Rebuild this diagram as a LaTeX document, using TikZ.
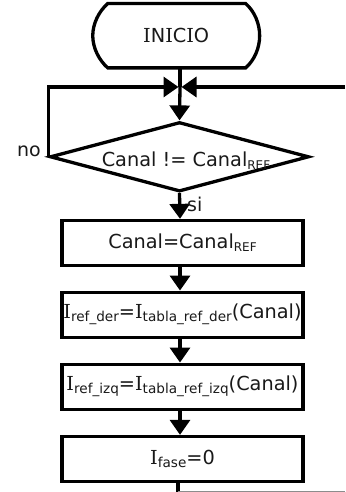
\documentclass[tikz,border=0pt]{standalone}
\usepackage{fontspec}
\setmainfont{DejaVu Sans}
\newfontfamily\vserif{DejaVu Serif}
\usetikzlibrary{arrows.meta,shapes.geometric,calc}
\newcommand\VI{{\vserif I}}
\newcommand\sbs[2][13.6]{\raisebox{-3pt}{\fontsize{#1}{#1}\selectfont #2}}
\begin{document}
\begin{tikzpicture}[x=1pt,y=-1pt,
  every node/.style={font=\fontsize{19.3}{23}\selectfont,text=black!90,inner sep=0pt},
  flow/.style={line width=3.3pt,-{Triangle[length=15pt,width=20pt]}},
  plain/.style={line width=3.3pt},
  procbox/.style={draw,line width=3.3pt,minimum width=241pt,minimum height=45pt},
  decision/.style={draw,line width=3.3pt,shape=diamond,minimum width=259pt,minimum height=69.5pt,aspect=3.73},
  lbl/.style={font=\fontsize{19}{23}\selectfont}
]
\useasboundingbox (0,0) rectangle (345,492);
\coordinate (spine) at (180,0);
% start terminal
\node[minimum width=166.5pt,minimum height=64pt] (start) at (176.2,35.7) {\VI N\VI C\VI O};
\draw[line width=3.3pt]
  ($(start.north west)+(15,0)$) -- ($(start.north east)+(-14,0)$)
  .. controls ($(start.north east)+(-5,8)$) and ($(start.east)+(0,-12)$) .. (start.east)
  .. controls ($(start.east)+(0,12)$) and ($(start.south east)+(-5,-8)$) .. ($(start.south east)+(-14,0)$)
  -- ($(start.south west)+(15,0)$)
  .. controls ($(start.south west)+(6,-8)$) and ($(start.west)+(0,12)$) .. (start.west)
  .. controls ($(start.west)+(0,-12)$) and ($(start.north west)+(6,8)$) .. cycle;
% junction
\coordinate (J) at (180,87);
\coordinate (R) at (345,87);
\node[decision] (dec) at (179.5,156.8) {};
\node[anchor=base] (dectext) at (186,166) {Canal != Canal\sbs[12]{REF}};
\node[procbox] (b1) at (182.5,243) {Canal=Canal\sbs[12]{REF}};
\node[procbox] (b2) at (182.5,314.7) {\VI\sbs{ref\_der}=\VI\sbs{tabla\_ref\_der}(Canal)};
\node[procbox] (b3) at (182.5,386.7) {\VI\sbs{ref\_izq}=\VI\sbs{tabla\_ref\_izq}(Canal)};
\node[procbox] (b4) at (182.5,459) {\VI\sbs{fase}=0};
\coordinate (exitT) at (178,481);
\coordinate (exitB) at (178,492);
\coordinate (grayR) at (345,491);
% connectors
\draw[plain] (start.south -| spine) -- (J);
\draw[flow] (J) -- (dec.north);
\draw[flow,shorten >=1.5pt] (dec.west) -- (dec.west |- J) -- (J);
\draw[flow,shorten >=1.5pt] (R) -- (J);
\draw[flow] (dec.south) -- (b1.north -| spine);
\draw[flow] (b1.south -| spine) -- (b2.north -| spine);
\draw[flow] (b2.south -| spine) -- (b3.north -| spine);
\draw[flow] (b3.south -| spine) -- (b4.north -| spine);
\draw[plain] (exitT) -- (exitB);
\draw[line width=1pt,black!45] (exitB |- grayR) -- (grayR);
% labels
\node[lbl,anchor=base east] (no) at (41,156) {no};
\node[lbl,anchor=base west] (si) at (187,211.7) {si};
\end{tikzpicture}
\end{document}
